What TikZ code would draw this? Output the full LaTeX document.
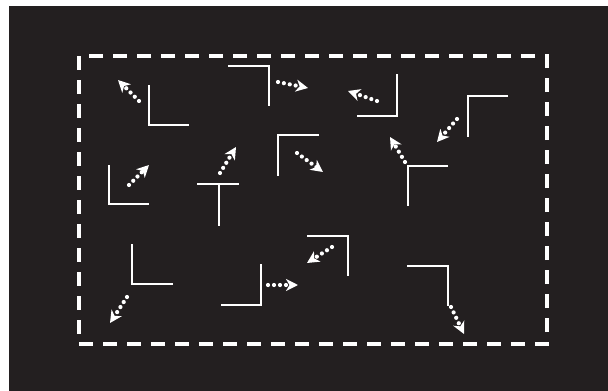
\documentclass[tikz,border=0pt]{standalone}
\usetikzlibrary{arrows.meta}
\definecolor{bg}{HTML}{231F20}
\tikzset{
  wall/.style={draw=white, line width=2.3pt},
  mover/.style={draw=white, line width=4.2pt, line cap=round, dash pattern=on 0pt off 6pt,
    -{Stealth[length=12pt,width=12pt,inset=3.5pt]}},
  frame/.style={draw=white, line width=4.2pt, dash pattern=on 14pt off 10pt}
}
\begin{document}
\begin{tikzpicture}[x=1pt,y=-1pt]
\useasboundingbox (0,0) rectangle (608,391);
\fill[bg] (9,6) rectangle (608,391);
\draw[frame] (79,56) rectangle (547,344);
% L shapes
\draw[wall] (149,85) -- (149,125) -- (189,125);
\draw[mover] (139,101) -- (118,80);
\draw[wall] (228,66) -- (269,66) -- (269,106);
\draw[mover] (278,82) -- (308,88);
\draw[wall] (319,135) -- (278,135) -- (278,176);
\draw[mover] (297,153) -- (323,172);
\draw[wall] (197,184) -- (239,184);
\draw[wall] (219,184) -- (219,226);
\draw[mover] (220,173) -- (236,147);
\draw[wall] (109,165) -- (109,204) -- (149,204);
\draw[mover] (129,185) -- (149,165);
\draw[wall] (357,116) -- (397,116) -- (397,74);
\draw[mover] (377,101) -- (348,91);
\draw[wall] (508,96) -- (468,96) -- (468,137);
\draw[mover] (457,119) -- (437,142);
\draw[wall] (448,166) -- (408,166) -- (408,206);
\draw[mover] (405,162) -- (390,137);
\draw[wall] (132,244) -- (132,284) -- (173,284);
\draw[mover] (127,297) -- (110,323);
\draw[wall] (261,264) -- (261,305) -- (221,305);
\draw[mover] (268,285) -- (298,285);
\draw[wall] (307,236) -- (348,236) -- (348,276);
\draw[mover] (332,247) -- (307,263);
\draw[wall] (407,266) -- (448,266) -- (448,306);
\draw[mover] (451,307) -- (464,334);
\end{tikzpicture}
\end{document}
